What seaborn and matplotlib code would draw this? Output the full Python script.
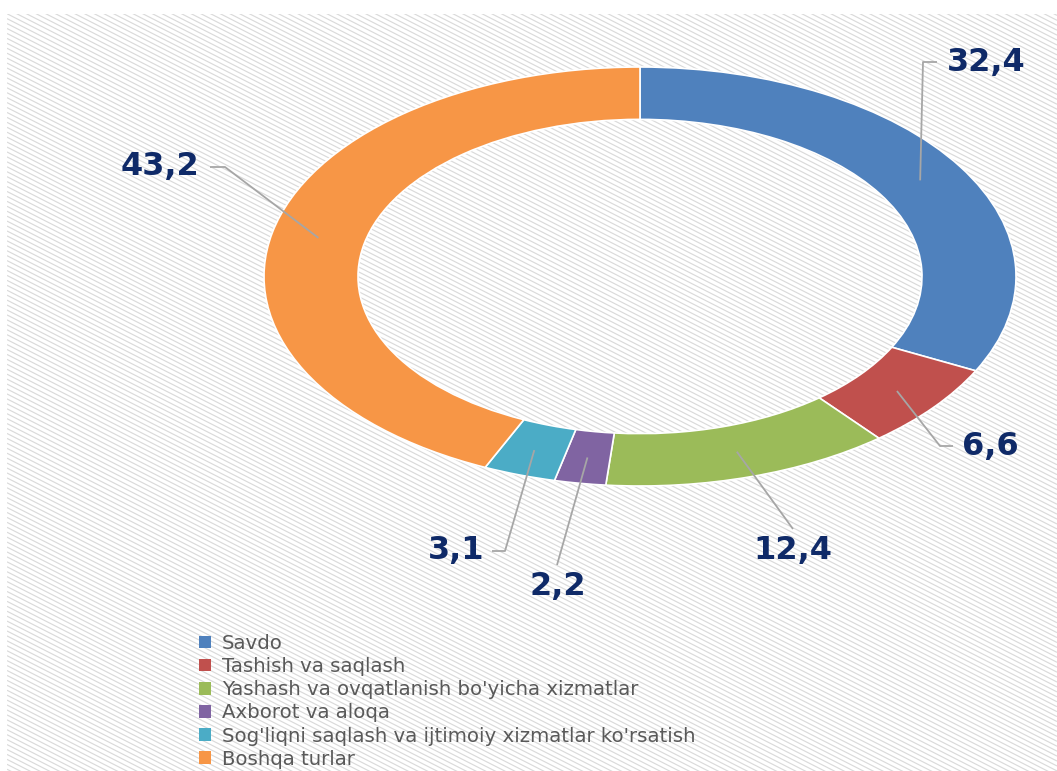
import numpy as np
import matplotlib
matplotlib.use('Agg')
import matplotlib.pyplot as plt
import seaborn as sns
from matplotlib.collections import LineCollection
from matplotlib.patches import Rectangle

# ---------------- data ----------------
categories = [
    "Savdo",
    "Tashish va saqlash",
    "Yashash va ovqatlanish bo'yicha xizmatlar",
    "Axborot va aloqa",
    "Sog'liqni saqlash va ijtimoiy xizmatlar ko'rsatish",
    "Boshqa turlar",
]
values = [32.4, 6.6, 12.4, 2.2, 3.1, 43.2]
value_labels = ["32,4", "6,6", "12,4", "2,2", "3,1", "43,2"]
colors = ["#4f81bd", "#c0504d", "#9bbb59", "#8064a2", "#4bacc6", "#f79646"]

# ---------------- layout (pixels, from top-left) ----------------
label_pos = [(947, 63, 'left'), (962, 447, 'left'), (793, 551, 'center'),
             (558, 587, 'center'), (484, 551, 'right'), (199, 166, 'right')]
leader_elbows = [[(923, 62), (937, 62)], [(940, 446), (953, 446)], [(793, 529)],
                 [(557, 565)], [(505, 551), (492, 551)], [(225, 167), (210, 167)]]

sns.set_theme(style="white")
plt.rcParams['font.family'] = ['DejaVu Sans']
palette = sns.color_palette(colors)

W, H = 1057, 771
fig = plt.figure(figsize=(W / 100, H / 100), dpi=100)
fig.patch.set_facecolor('white')

bg = fig.add_axes([0, 0, 1, 1])
bg.set_xlim(0, W)
bg.set_ylim(H, 0)
bg.axis('off')

# hatched background panel
rect = Rectangle((7, 14), W - 7, H - 14, facecolor='white', edgecolor='none', zorder=0)
bg.add_patch(rect)
ang = np.deg2rad(27)
slope = np.tan(ang)
step = 4.4 / np.cos(ang)
segs = []
for c in np.arange(14 - slope * W, H + step, step):
    segs.append([(7, c), (W, c + slope * (W - 7))])
lc = LineCollection(segs, colors='#dadada', linewidths=0.85, zorder=1)
bg.add_collection(lc)
lc.set_clip_path(rect)

# donut
pax = fig.add_axes([264 / W, (H - 486) / H, 752 / W, 419 / H])
wedges, _ = pax.pie(values, colors=palette, startangle=90, counterclock=False,
                    radius=1.0,
                    wedgeprops=dict(width=0.25, edgecolor='white', linewidth=1.2))
pax.set_aspect('auto')
pax.set_xlim(-1, 1)
pax.set_ylim(-1, 1)
pax.axis('off')
pax.patch.set_alpha(0)

# overlay for leader lines and value labels
ov = fig.add_axes([0, 0, 1, 1])
ov.set_xlim(0, W)
ov.set_ylim(H, 0)
ov.axis('off')
ov.patch.set_alpha(0)

fig.canvas.draw()
to_ov = ov.transData.inverted()
for w, lab, (tx, ty, ha), elb in zip(wedges, value_labels, label_pos, leader_elbows):
    mid = np.deg2rad((w.theta1 + w.theta2) / 2)
    r = 0.875
    p = to_ov.transform(pax.transData.transform((r * np.cos(mid), r * np.sin(mid))))
    pts = [tuple(p)] + elb
    xs, ys = zip(*pts)
    ov.plot(xs, ys, color='#a6a6a6', lw=1.3, zorder=5, solid_capstyle='butt')
    ov.text(tx, ty, lab, ha=ha, va='center', fontsize=23, fontweight='bold',
            color='#0f2a68', zorder=6)

leg = fig.legend(wedges, categories, loc='upper left',
                 bbox_to_anchor=(199 / W, 1 - 634 / H), frameon=False,
                 fontsize=14.2, labelcolor='#595959', handlelength=0.6,
                 handleheight=0.6, handletextpad=0.55, labelspacing=0.21,
                 borderpad=0, borderaxespad=0)
for h in leg.legend_handles:
    h.set_edgecolor('none')

fig.savefig('out.png', dpi=100, facecolor='white')
